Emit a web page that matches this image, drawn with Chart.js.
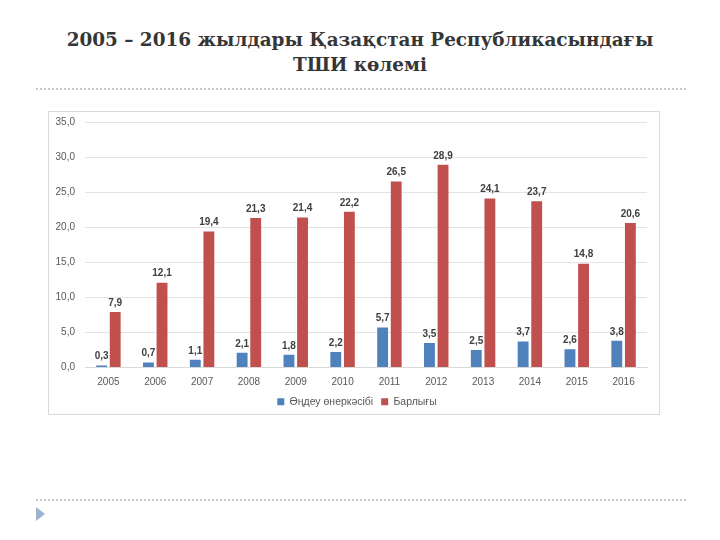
<!DOCTYPE html>
<html><head><meta charset="utf-8">
<script src="https://cdn.jsdelivr.net/npm/chart.js@4"></script>
<style>
html,body{margin:0;padding:0;background:#fff;}
body{width:720px;height:540px;position:relative;overflow:hidden;}
#title{position:absolute;left:0;top:27px;width:720px;text-align:center;font-family:"DejaVu Serif",serif;font-weight:bold;font-size:18.4px;line-height:25px;color:#363636;}
.dots{position:absolute;left:36px;width:650px;border-top:2px dotted #c8c8c8;height:0;}
#box{position:absolute;left:48px;top:111px;width:610px;height:302px;border:1px solid #d9d9d9;}
#c{position:absolute;left:0;top:0;}
#tri{position:absolute;left:36px;top:507px;width:0;height:0;border-top:7px solid transparent;border-bottom:7px solid transparent;border-left:9px solid #9cb3cf;}
</style></head><body>
<div id="title">2005 – 2016 жылдары Қазақстан Республикасындағы<br>ТШИ көлемі</div>
<div class="dots" style="top:88px"></div>
<div class="dots" style="top:499px"></div>
<div id="tri"></div>
<div id="box"><canvas id="c" width="610" height="305"></canvas></div>
<script>
const years = ["2005","2006","2007","2008","2009","2010","2011","2012","2013","2014","2015","2016"];
const manufacturing = [0.3,0.7,1.1,2.1,1.8,2.2,5.7,3.5,2.5,3.7,2.6,3.8];
const total = [7.9,12.1,19.4,21.3,21.4,22.2,26.5,28.9,24.1,23.7,14.8,20.6];
const seriesNames = ["Өңдеу өнеркәсібі","Барлығы"];

const fmt = v => v.toFixed(1).replace('.', ',');

const labelPlugin = {
  id: 'valueLabels',
  afterDatasetsDraw(chart) {
    const ctx = chart.ctx;
    ctx.save();
    ctx.font = 'bold 10px "Liberation Sans", Arial, sans-serif';
    ctx.fillStyle = '#404040';
    ctx.textAlign = 'center';
    ctx.textBaseline = 'bottom';
    chart.data.datasets.forEach((ds, i) => {
      const meta = chart.getDatasetMeta(i);
      meta.data.forEach((bar, j) => {
        ctx.fillText(fmt(ds.data[j]), bar.x, bar.y - 4);
      });
    });
    ctx.restore();
  }
};

const legendShift = {
  id: 'legendShift',
  afterUpdate(chart) {
    if (chart.legend) { chart.legend.left += 9; chart.legend.right += 9; }
  }
};

new Chart(document.getElementById('c'), {
  type: 'bar',
  data: {
    labels: years,
    datasets: [
      {label: seriesNames[0], data: manufacturing, backgroundColor: '#4f81bd'},
      {label: seriesNames[1], data: total, backgroundColor: '#c0504d'}
    ]
  },
  options: {
    responsive: false,
    animation: false,
    devicePixelRatio: 1,
    layout: {padding: {left: 0, right: 12, top: 0, bottom: 0}},
    datasets: {bar: {categoryPercentage: 0.58, barPercentage: 0.8}},
    plugins: {
      tooltip: {enabled: false},
      legend: {
        position: 'bottom',
        labels: {boxWidth: 7, boxHeight: 7, padding: 8, color: '#595959',
                 font: {family: '"Liberation Sans", Arial, sans-serif', size: 10.5}}
      }
    },
    scales: {
      x: {
        afterFit: s => { s.height = 21; },
        grid: {display: false, drawTicks: false},
        border: {display: true, color: '#d9d9d9'},
        ticks: {padding: 9, color: '#595959', font: {family: '"Liberation Sans", Arial, sans-serif', size: 10}}
      },
      y: {
        min: 0, max: 35,
        afterFit: s => { s.width = 36; s.paddingTop = 10; s.paddingBottom = 0; },
        grid: {color: '#e3e3e3', drawTicks: false},
        border: {display: false},
        ticks: {stepSize: 5, padding: 10, color: '#595959', callback: v => fmt(v),
                font: {family: '"Liberation Sans", Arial, sans-serif', size: 10}}
      }
    }
  },
  plugins: [labelPlugin, legendShift]
});
</script>
</body></html>
